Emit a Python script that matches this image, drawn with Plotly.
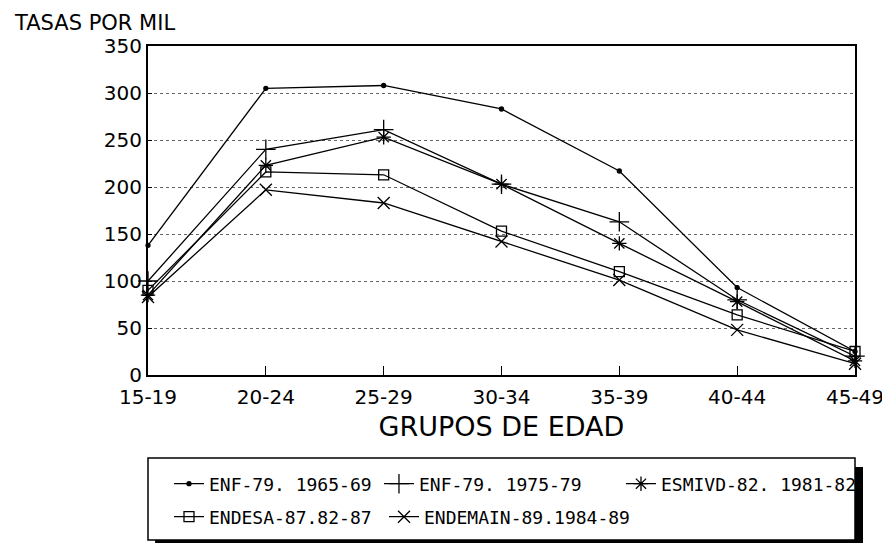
import plotly.graph_objects as go

grupos = ["15-19", "20-24", "25-29", "30-34", "35-39", "40-44", "45-49"]

enf_6569 = [138, 305, 308, 283, 217, 93, 25]
enf_7579 = [100, 240, 261, 203, 163, 80, 20]
esmivd_82 = [85, 223, 253, 203, 140, 78, 15]
endesa_87 = [90, 216, 213, 153, 110, 64, 25]
endemain_89 = [83, 197, 183, 142, 101, 48, 12]

nombres = ["ENF-79. 1965-69", "ENF-79. 1975-79", "ESMIVD-82. 1981-82",
           "ENDESA-87.82-87", "ENDEMAIN-89.1984-89"]
series = [enf_6569, enf_7579, esmivd_82, endesa_87, endemain_89]
simbolos = ["circle", "cross-thin", "asterisk-open", "square-open", "x-thin"]
tamanos = [4, 14, 12, 10, 12]
leyendas = ["legend", "legend2", "legend3", "legend4", "legend5"]

fig = go.Figure()

for nombre, valores, simb, tam, ley in zip(nombres, series, simbolos, tamanos, leyendas):
    fig.add_trace(go.Scatter(
        x=list(range(len(grupos))), y=valores,
        mode="lines+markers",
        name=nombre,
        legend=ley,
        showlegend=True,
        line=dict(color="black", width=1.3),
        marker=dict(symbol=simb, size=tam, color="black",
                    line=dict(color="black", width=1.3)),
        cliponaxis=False,
    ))

# recuadro de la leyenda con sombra gruesa (derecha y abajo)
fig.add_shape(type="rect", xref="paper", yref="paper",
              x0=0, x1=1.0, y0=-0.5015, y1=-0.2523,
              line=dict(color="black", width=1.5), fillcolor="rgba(0,0,0,0)")
fig.add_shape(type="rect", xref="paper", yref="paper",
              x0=1.0, x1=1.0113, y0=-0.515, y1=-0.2796,
              fillcolor="black", line_width=0)
fig.add_shape(type="rect", xref="paper", yref="paper",
              x0=0.01, x1=1.0113, y0=-0.515, y1=-0.5015,
              fillcolor="black", line_width=0)

fig.add_annotation(text="TASAS POR MIL", xref="paper", yref="paper",
                   x=-0.1924, y=1.07, xanchor="left", yanchor="middle",
                   showarrow=False, font=dict(size=21, color="black"))

fuente_ley = dict(size=18, family="DejaVu Sans Mono, monospace", color="black")
pos_ley = {"legend": (0.0297, -0.3313), "legend2": (0.3267, -0.3313),
           "legend3": (0.669, -0.3313), "legend4": (0.0297, -0.4316),
           "legend5": (0.3338, -0.4316)}
for ley, (lx, ly) in pos_ley.items():
    fig.update_layout({ley: dict(
        orientation="h", x=lx, y=ly, xanchor="left", yanchor="middle",
        font=fuente_ley, itemwidth=30, bgcolor="rgba(0,0,0,0)",
    )})

# la pagina html tiene 8 px de margen en el body: se compensa aqui
fig.update_layout(
    width=890, height=543,
    showlegend=True,
    margin=dict(l=140, r=43, t=38, b=176),
    paper_bgcolor="white", plot_bgcolor="white",
    font=dict(family="DejaVu Sans, sans-serif", color="black"),
    xaxis=dict(
        tickmode="array", tickvals=list(range(len(grupos))), ticktext=grupos,
        range=[0, len(grupos) - 1], showgrid=False, zeroline=False,
        showline=True, linecolor="black", linewidth=2, mirror=True,
        ticks="inside", ticklen=9, tickcolor="black",
        tickfont=dict(size=20), ticklabelstandoff=3, automargin=False,
        title=dict(text="GRUPOS DE EDAD", font=dict(size=27), standoff=9),
    ),
    yaxis=dict(
        range=[0, 350], dtick=50, showgrid=True,
        gridcolor="#666666", griddash="dot", gridwidth=1,
        zeroline=False, showline=True, linecolor="black", linewidth=2,
        mirror=True, ticks="inside", ticklen=4, tickcolor="black",
        tickfont=dict(size=20), automargin=False,
    ),
)

fig.write_html("out.html")
